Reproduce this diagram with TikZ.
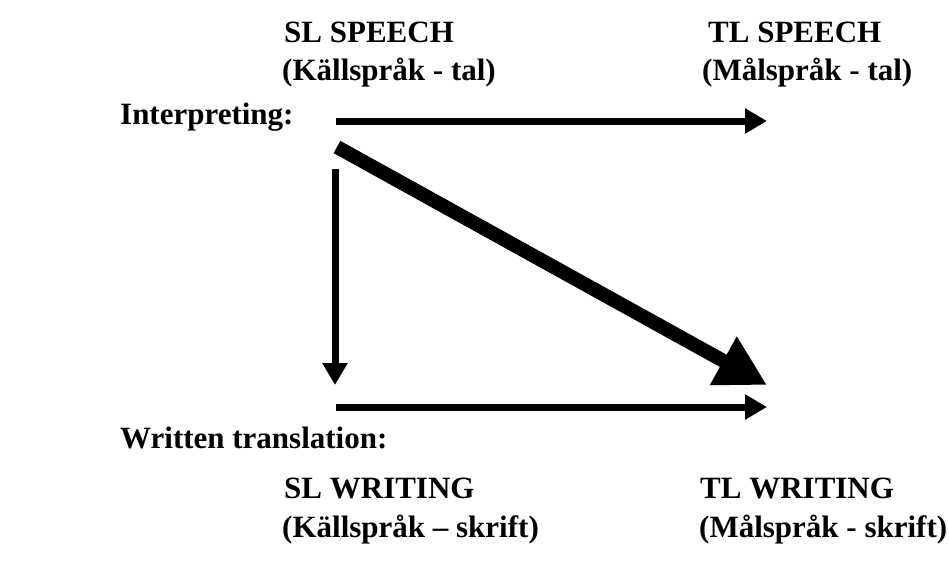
\documentclass[tikz,border=0pt]{standalone}
\usepackage{fontspec}
\setmainfont{Liberation Serif}
\usetikzlibrary{arrows.meta}

\begin{document}
\begin{tikzpicture}[x=1pt,y=-1pt,
  lbl/.style={anchor=base west,inner sep=0pt,font=\fontsize{31}{36}\selectfont\bfseries},
  thinarrow/.style={-{Triangle[length=22pt,width=24pt]},line width=7pt},
  thickarrow/.style={-{Triangle[length=50pt,width=52pt]},line width=14pt}]
\useasboundingbox (0,0) rectangle (949,566);
% labels
\node[lbl] (slspeech) at (284,42) {SL SPEECH};
\node[lbl] (slspeechsv) at (282,80) {(Källspråk - tal)};
\node[lbl] (tlspeech) at (708,42) {TL SPEECH};
\node[lbl] (tlspeechsv) at (702,80) {(Målspråk - tal)};
\node[lbl] (interp) at (120,124) {Interpreting:};
\node[lbl] (written) at (120,448) {Written translation:};
\node[lbl] (slwriting) at (284,498) {SL WRITING};
\node[lbl] (slwritingsv) at (282,537) {(Källspråk – skrift)};
\node[lbl] (tlwriting) at (700,498) {TL WRITING};
\node[lbl] (tlwritingsv) at (699,537) {(Målspråk - skrift)};
% arrow ends
\coordinate (topS) at (336,121);
\coordinate (topE) at (767,121);
\coordinate (diagS) at (337,147);
\coordinate (diagE) at (767,385);
\coordinate (vertS) at (335,169);
\coordinate (vertE) at (335,385);
\coordinate (botS) at (336,407);
\coordinate (botE) at (767,407);
% arrows
\draw[thinarrow] (topS) -- (topE);
\draw[thickarrow] (diagS) -- (diagE);
\draw[thinarrow] (vertS) -- (vertE);
\draw[thinarrow] (botS) -- (botE);
\end{tikzpicture}
\end{document}
